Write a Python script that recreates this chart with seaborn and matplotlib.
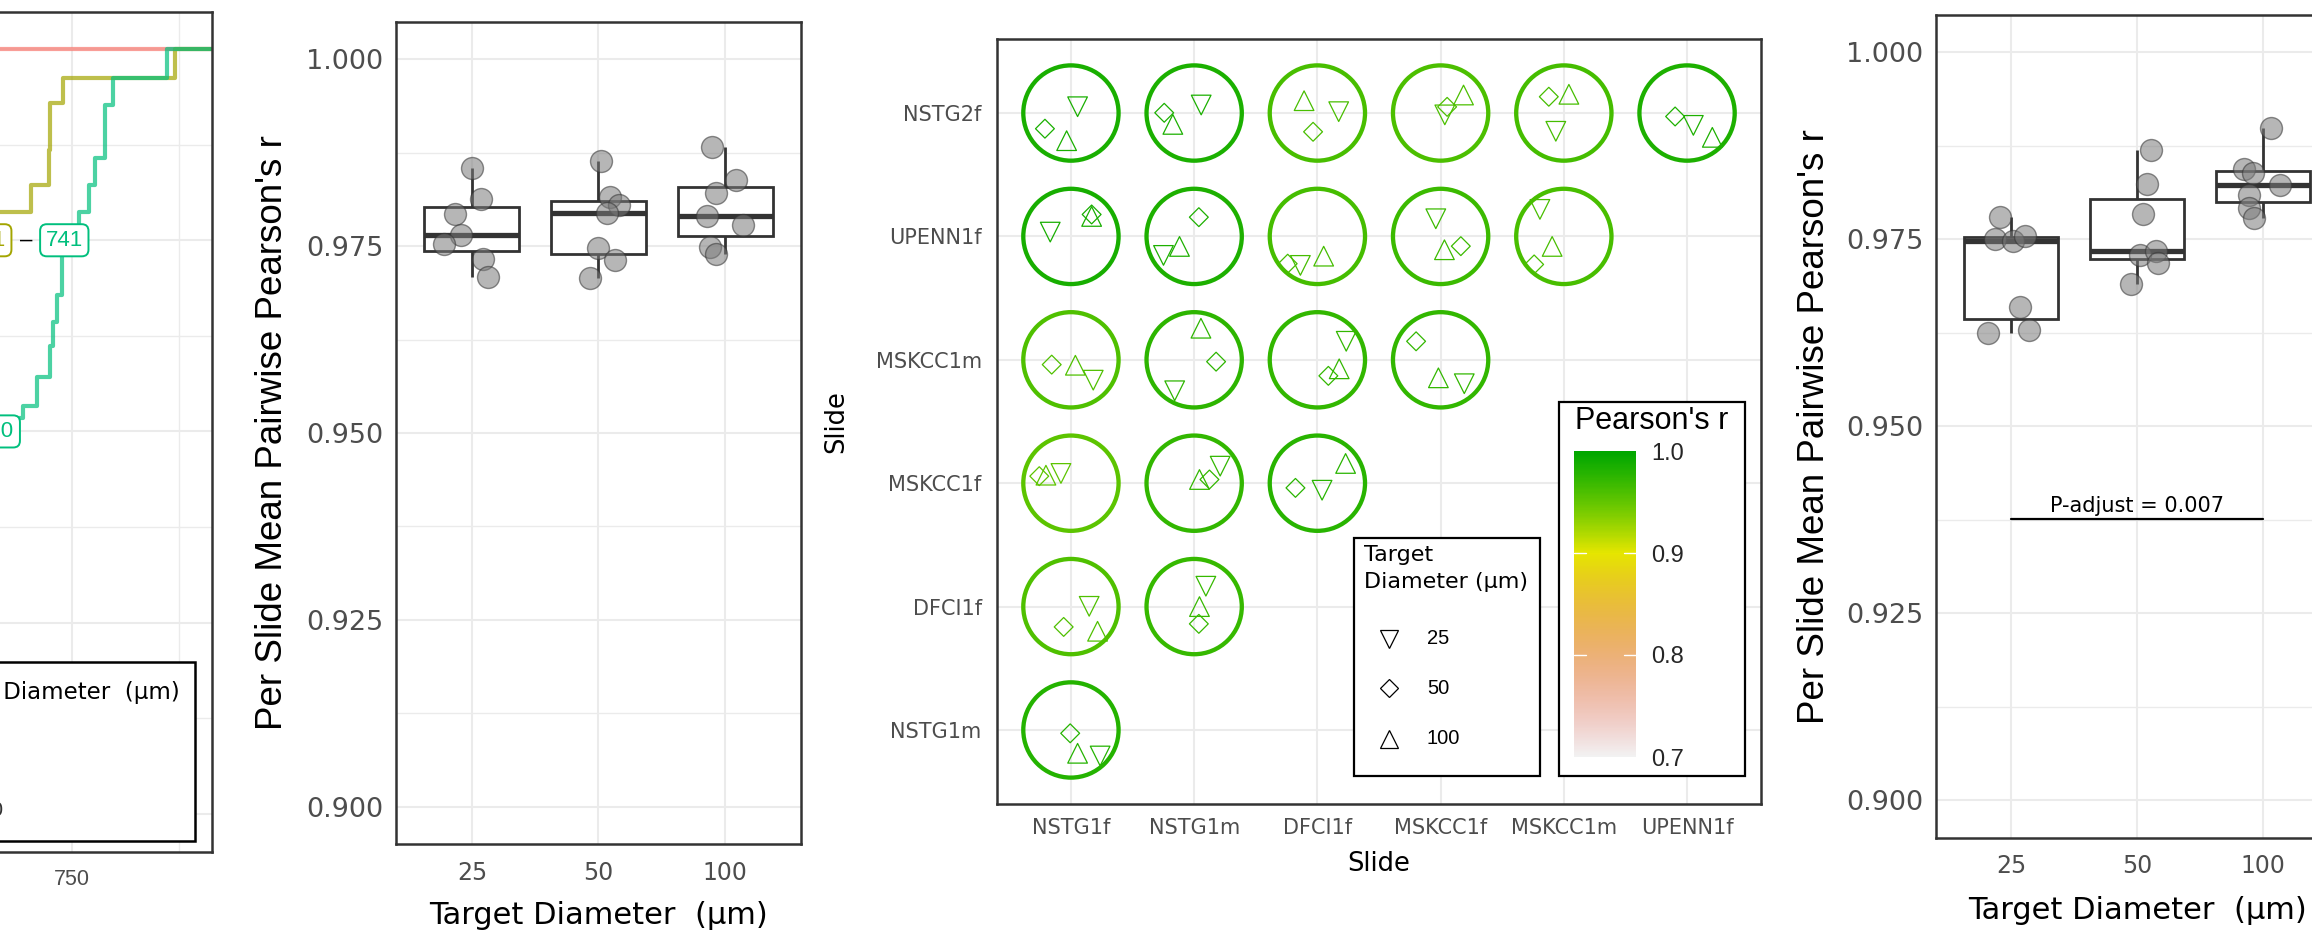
import colorsys
import numpy as np
import pandas as pd
import matplotlib
matplotlib.use("Agg")
import matplotlib.pyplot as plt
import seaborn as sns
from matplotlib.patches import Rectangle
from matplotlib.lines import Line2D
from matplotlib.colors import LinearSegmentedColormap, Normalize
from matplotlib.cm import ScalarMappable

# ------------------------------------------------------------------ data
diam_levels = ["25", "50", "100"]

# Panel A (only its right edge is visible): cumulative step curves
curve_x_25 = [300, 960]
curve_y_25 = [1.0, 1.0]
curve_x_50 = [300, 650.7, 702.1, 722.8, 724.3, 739.5, 870.3, 960]
curve_y_50 = [0.88, 0.9147, 0.9289, 0.9472, 0.9718, 0.9848, 1.0, 1.0]
curve_x_100 = [300, 661, 692.8, 709.1, 724.3, 727.8, 732.5, 738.3, 758.2,
               769.9, 776.9, 788.6, 797.9, 861.0, 960]
curve_y_100 = [0.77, 0.807, 0.8133, 0.8285, 0.8447, 0.8572, 0.8713, 0.9064,
               0.9147, 0.9289, 0.9430, 0.9707, 0.9848, 1.0, 1.0]
label_text = ["651", "741", "650"]
label_x = [651, 741, 661]
label_y = [0.90, 0.90, 0.80]
label_level = ["50", "100", "100"]

# Panel B: per slide mean pairwise Pearson's r
b_vals_25 = [0.9855, 0.9813, 0.9793, 0.9765, 0.9753, 0.9733, 0.9709]
b_jit_25 = [0.00, 0.07, -0.13, -0.09, -0.22, 0.09, 0.13]
b_vals_50 = [0.9864, 0.9816, 0.9805, 0.9795, 0.9747, 0.9731, 0.9707]
b_jit_50 = [0.02, 0.09, 0.16, 0.07, 0.00, 0.13, -0.07]
b_vals_100 = [0.9883, 0.9838, 0.9821, 0.9791, 0.9779, 0.9749, 0.9740]
b_jit_100 = [-0.10, 0.09, -0.07, -0.14, 0.14, -0.12, -0.07]

# Panel D
d_vals_25 = [0.9780, 0.9751, 0.9748, 0.9755, 0.9659, 0.9625, 0.9629]
d_jit_25 = [-0.09, -0.13, 0.01, 0.11, 0.07, -0.19, 0.14]
d_vals_50 = [0.9869, 0.9824, 0.9784, 0.9729, 0.9735, 0.9719, 0.9690]
d_jit_50 = [0.11, 0.08, 0.05, 0.02, 0.15, 0.17, -0.05]
d_vals_100 = [0.9899, 0.9844, 0.9839, 0.9823, 0.9809, 0.9792, 0.9779]
d_jit_100 = [0.07, -0.15, -0.08, 0.14, -0.11, -0.11, -0.07]
p_adjust_text = "P-adjust = 0.007"
p_adjust_y = 0.93755

# Panel C: slide-pair correlations
slides_x = ["NSTG1f", "NSTG1m", "DFCI1f", "MSKCC1f", "MSKCC1m", "UPENN1f"]
slides_y = ["NSTG1m", "DFCI1f", "MSKCC1f", "MSKCC1m", "UPENN1f", "NSTG2f"]
pair_row = ["NSTG2f", "NSTG2f", "NSTG2f", "NSTG2f", "NSTG2f", "NSTG2f",
            "UPENN1f", "UPENN1f", "UPENN1f", "UPENN1f", "UPENN1f",
            "MSKCC1m", "MSKCC1m", "MSKCC1m", "MSKCC1m",
            "MSKCC1f", "MSKCC1f", "MSKCC1f",
            "DFCI1f", "DFCI1f",
            "NSTG1m"]
pair_col = ["NSTG1f", "NSTG1m", "DFCI1f", "MSKCC1f", "MSKCC1m", "UPENN1f",
            "NSTG1f", "NSTG1m", "DFCI1f", "MSKCC1f", "MSKCC1m",
            "NSTG1f", "NSTG1m", "DFCI1f", "MSKCC1f",
            "NSTG1f", "NSTG1m", "DFCI1f",
            "NSTG1f", "NSTG1m",
            "NSTG1f"]
pair_r = [0.985, 0.984, 0.962, 0.960, 0.963, 0.983,
          0.986, 0.983, 0.963, 0.968, 0.962,
          0.958, 0.975, 0.972, 0.973,
          0.953, 0.972, 0.977,
          0.958, 0.970,
          0.979]
off25_dx = [0.054, 0.057, 0.173, 0.034, -0.065, 0.051, -0.168, -0.249, -0.138, -0.039, -0.194,
            0.181, -0.158, 0.234, 0.192, -0.081, 0.211, 0.038, 0.148, 0.095, 0.237]
off25_dy = [0.051, 0.065, 0.011, -0.015, -0.148, -0.100, 0.035, -0.154, -0.235, 0.143, 0.219,
            -0.165, -0.251, 0.150, -0.194, 0.079, 0.138, -0.057, 0.002, 0.165, -0.211]
off50_dx = [-0.211, -0.243, -0.035, 0.053, -0.122, -0.097, 0.168, 0.038, -0.241, 0.164, -0.241,
            -0.156, 0.178, 0.089, -0.199, -0.257, 0.124, -0.178, -0.059, 0.038, -0.006]
off50_dy = [-0.127, 0.002, -0.152, 0.050, 0.132, -0.028, 0.178, 0.156, -0.221, -0.079, -0.227,
            -0.039, -0.015, -0.130, 0.150, 0.057, 0.030, -0.038, -0.165, -0.140, -0.027]
off100_dx = [-0.035, -0.173, -0.108, 0.186, 0.041, 0.205, 0.168, -0.119, 0.051, 0.031, -0.095,
             0.036, 0.055, 0.177, -0.018, -0.203, 0.043, 0.229, 0.216, 0.043, 0.054]
off100_dy = [-0.224, -0.092, 0.100, 0.146, 0.152, -0.197, 0.162, -0.081, -0.160, -0.108, -0.081,
             -0.044, 0.256, -0.073, -0.146, 0.065, 0.030, 0.160, -0.200, 0.000, -0.189]
cbar_ticks = [0.7, 0.8, 0.9, 1.0]

# ------------------------------------------------------------------ style
sns.set_style("white")
plt.rcParams["font.family"] = ["DejaVu Sans"]
LIB = "Liberation Sans"
FRAME = "#333333"
GRID = "#EBEBEB"
TICKLAB = "#4D4D4D"
line_palette = {"25": "#F8766D", "50": "#A3A500", "100": "#00BF7D"}

W, H = 2312, 936
fig = plt.figure(figsize=(W / 100, H / 100), dpi=100)
fig.patch.set_facecolor("white")


def fbox(l, t, r, b):
    return [l / W, 1 - b / H, (r - l) / W, (b - t) / H]


def style_axes(ax):
    for s in ax.spines.values():
        s.set_visible(True)
        s.set_color(FRAME)
        s.set_linewidth(1.8)
    ax.set_axisbelow(True)
    ax.grid(True, which="major", color=GRID, lw=1.5)
    ax.grid(True, which="minor", color=GRID, lw=1.0)
    ax.tick_params(which="major", length=6, width=1.4, color=FRAME, labelcolor=TICKLAB)
    ax.tick_params(which="minor", length=0)


# ------------------------------------------------------------------ panel A
ax1 = fig.add_axes(fbox(-300, 12, 212, 852))
dfA = pd.concat([
    pd.DataFrame({"x": curve_x_25, "y": curve_y_25, "diam": "25"}),
    pd.DataFrame({"x": curve_x_50, "y": curve_y_50, "diam": "50"}),
    pd.DataFrame({"x": curve_x_100, "y": curve_y_100, "diam": "100"}),
], ignore_index=True)
sns.lineplot(data=dfA, x="x", y="y", hue="diam", hue_order=diam_levels,
             palette=line_palette, estimator=None, drawstyle="steps-post",
             linewidth=3.0, alpha=0.7, legend=False, ax=ax1)
ax1.set_xlim(750 - (72 + 300) / 0.856, 750 + (212 - 72) / 0.856)
ax1.set_ylim(0.58, 1.0194)
ax1.set_xticks([500, 750])
ax1.set_xticks([625, 875], minor=True)
ax1.set_yticks([0.6, 0.7, 0.8, 0.9, 1.0])
ax1.set_yticks([0.65, 0.75, 0.85, 0.95], minor=True)
style_axes(ax1)
ax1.set_xticklabels(["500", "750"], fontsize=15.5, family=LIB)
ax1.tick_params(axis="x", pad=6)
ax1.set_yticklabels([])
ax1.set_xlabel("")
ax1.set_ylabel("")
for t, x, y, lvl in zip(label_text, label_x, label_y, label_level):
    ax1.text(x, y, t, ha="center", va="center", fontsize=16, family=LIB,
             color=line_palette[lvl], zorder=6,
             bbox=dict(boxstyle="round,pad=0.25,rounding_size=0.3", fc="white",
                       ec=line_palette[lvl], lw=1.4))
ax1.text((label_x[0] + label_x[1]) / 2, label_y[0], "–", ha="center", va="center",
         fontsize=16, family=LIB, color="black", zorder=6)

# panel A legend (cut off by the left edge)
fig.patches.append(Rectangle((-40 / W, 1 - 841 / H), 235 / W, 179 / H,
                             transform=fig.transFigure, fc="white", ec="black",
                             lw=1.8, zorder=2))
fig.text(180 / W, 1 - 692 / H, "Target Diameter  (µm)", ha="right", va="center",
         fontsize=16.5, color="black", zorder=4)
fig.text(4 / W, 1 - 810 / H, "100", ha="right", va="center", fontsize=15,
         family=LIB, color=FRAME, zorder=4)


# ------------------------------------------------------------------ box panels
def box_panel(ax, vals, jits):
    rows = []
    for i, lvl in enumerate(diam_levels):
        for v, j in zip(vals[i], jits[i]):
            rows.append((i, v, i + j))
    df = pd.DataFrame(rows, columns=["code", "r", "xpos"])
    sns.boxplot(data=df, x="code", y="r", order=[0, 1, 2], width=0.75, color="white",
                linecolor=FRAME, linewidth=2.0, showcaps=False, showfliers=False,
                saturation=1, medianprops=dict(linewidth=3.8, color=FRAME), ax=ax)
    sns.scatterplot(data=df, x="xpos", y="r", s=250, color="#7A7A7A",
                    edgecolor="#333333", linewidth=1.0, alpha=0.55, legend=False,
                    ax=ax, zorder=4)
    ax.set_xlim(-0.6, 2.6)
    ax.set_ylim(0.895, 1.005)
    ax.set_xticks([0, 1, 2])
    ax.set_yticks([0.900, 0.925, 0.950, 0.975, 1.000])
    ax.set_yticks([0.9125, 0.9375, 0.9625, 0.9875], minor=True)
    style_axes(ax)
    ax.set_xticklabels(diam_levels, fontsize=17)
    ax.set_yticklabels(["0.900", "0.925", "0.950", "0.975", "1.000"], fontsize=19.5)
    ax.tick_params(axis="x", pad=6)
    ax.tick_params(axis="y", pad=3)
    ax.set_xlabel("Target Diameter  (µm)", fontsize=22, color="black", va="baseline")
    ax.set_ylabel("Per Slide Mean Pairwise Pearson's r", fontsize=26.5, family=LIB,
                  color="black", va="center")


ax2 = fig.add_axes(fbox(396, 22, 801, 844))
box_panel(ax2, [b_vals_25, b_vals_50, b_vals_100], [b_jit_25, b_jit_50, b_jit_100])
ax2.xaxis.set_label_coords(0.5, -(924 - 844) / 822)
ax2.yaxis.set_label_coords((273 - 396) / 405, 0.5)

ax4 = fig.add_axes(fbox(1936, 15, 2338, 837.6))
box_panel(ax4, [d_vals_25, d_vals_50, d_vals_100], [d_jit_25, d_jit_50, d_jit_100])
ax4.xaxis.set_label_coords(0.5, -(919 - 837.6) / 822.6)
ax4.yaxis.set_label_coords((1814 - 1936) / 402, 0.5)
ax4.plot([0, 2], [p_adjust_y, p_adjust_y], color="black", lw=1.6, zorder=3)
ax4.text(1, p_adjust_y + 0.0005, p_adjust_text, ha="center", va="bottom",
         fontsize=15, color="black")

# ------------------------------------------------------------------ panel C
stops = []
for t in np.linspace(1.0, 0.0, 21):        # 0.7 (light) -> 0.9 (yellow)
    stops.append(((1 - t) * 2 / 3, colorsys.hsv_to_rgb((1 / 6) * (1 - t), 1 - t, 0.9 + 0.05 * t)))
for t in np.linspace(0.0, 1.0, 11)[1:]:    # 0.9 (yellow) -> 1.0 (green)
    stops.append((2 / 3 + t / 3, colorsys.hsv_to_rgb(1 / 6 + t / 6, 1.0, 0.9 - 0.25 * t)))
cmap = LinearSegmentedColormap.from_list("terrain_r", stops)
norm = Normalize(0.7, 1.0)

ax3 = fig.add_axes(fbox(997, 39, 1761, 804))
xi = np.array([slides_x.index(c) for c in pair_col], dtype=float)
yi = np.array([slides_y.index(r) for r in pair_row], dtype=float)
cols = cmap(norm(np.array(pair_r)))
ax3.scatter(xi, yi, s=4706, marker="o", facecolors="none", edgecolors=cols,
            linewidths=3.1, zorder=3)
ax3.scatter(xi + np.array(off25_dx), yi + np.array(off25_dy), s=200, marker="v",
            facecolors="none", edgecolors=cols, linewidths=0.9, zorder=4)
ax3.scatter(xi + np.array(off50_dx), yi + np.array(off50_dy), s=92, marker="D",
            facecolors="none", edgecolors=cols, linewidths=0.9, zorder=4)
ax3.scatter(xi + np.array(off100_dx), yi + np.array(off100_dy), s=200, marker="^",
            facecolors="none", edgecolors=cols, linewidths=0.9, zorder=4)
ax3.set_xlim(-0.6, 5.6)
ax3.set_ylim(-0.6, 5.6)
ax3.set_xticks(range(6))
ax3.set_yticks(range(6))
style_axes(ax3)
ax3.set_xticklabels(slides_x, fontsize=15)
ax3.set_yticklabels(slides_y, fontsize=15)
ax3.tick_params(axis="x", pad=4)
ax3.tick_params(axis="y", pad=5)
ax3.set_xlabel("Slide", fontsize=18.5, color="black", va="center")
ax3.set_ylabel("Slide", fontsize=18.5, color="black", va="center")
ax3.xaxis.set_label_coords((1379 - 997) / 764, -(864 - 804) / 765)
ax3.yaxis.set_label_coords((836 - 997) / 764, 0.5)

# shape legend
fig.patches.append(Rectangle((1354 / W, 1 - 776 / H), 186 / W, 238 / H,
                             transform=fig.transFigure, fc="white", ec="black",
                             lw=1.6, zorder=2))
fig.text(1364 / W, 1 - 555 / H, "Target", ha="left", va="center", fontsize=16,
         color="black", zorder=4)
fig.text(1364 / W, 1 - 582 / H, "Diameter (µm)", ha="left", va="center", fontsize=16,
         color="black", zorder=4)
for mk, ms, yy, lab in [("v", 13.5, 639, "25"), ("D", 9.5, 688, "50"), ("^", 13.5, 738.5, "100")]:
    fig.add_artist(Line2D([1389 / W], [1 - yy / H], marker=mk, markersize=ms,
                          mfc="none", mec="black", mew=0.9, ls="none",
                          transform=fig.transFigure, zorder=4))
    fig.text(1427 / W, 1 - yy / H, lab, ha="left", va="center", fontsize=14.5,
             family=LIB, color="black", zorder=4)

# colour legend
fig.patches.append(Rectangle((1559 / W, 1 - 776 / H), 186 / W, 374 / H,
                             transform=fig.transFigure, fc="white", ec="black",
                             lw=1.6, zorder=2))
fig.text(1575 / W, 1 - 421 / H, "Pearson's r", ha="left", va="center", fontsize=22,
         family=LIB, color="black", zorder=4)
cax = fig.add_axes(fbox(1574, 451, 1636, 757))
cax.set_zorder(3)
cb = fig.colorbar(ScalarMappable(norm=norm, cmap=cmap), cax=cax, ticks=cbar_ticks)
cb.outline.set_visible(False)
cax.set_yticklabels([f"{v:.1f}" for v in cbar_ticks], fontsize=17, family=LIB)
cax.tick_params(length=0, pad=11)
for v in cbar_ticks[1:3]:
    cax.plot([0, 0.2], [v, v], color="white", lw=1.0)
    cax.plot([0.8, 1.0], [v, v], color="white", lw=1.0)

fig.savefig("out.png", dpi=100, facecolor="white")
